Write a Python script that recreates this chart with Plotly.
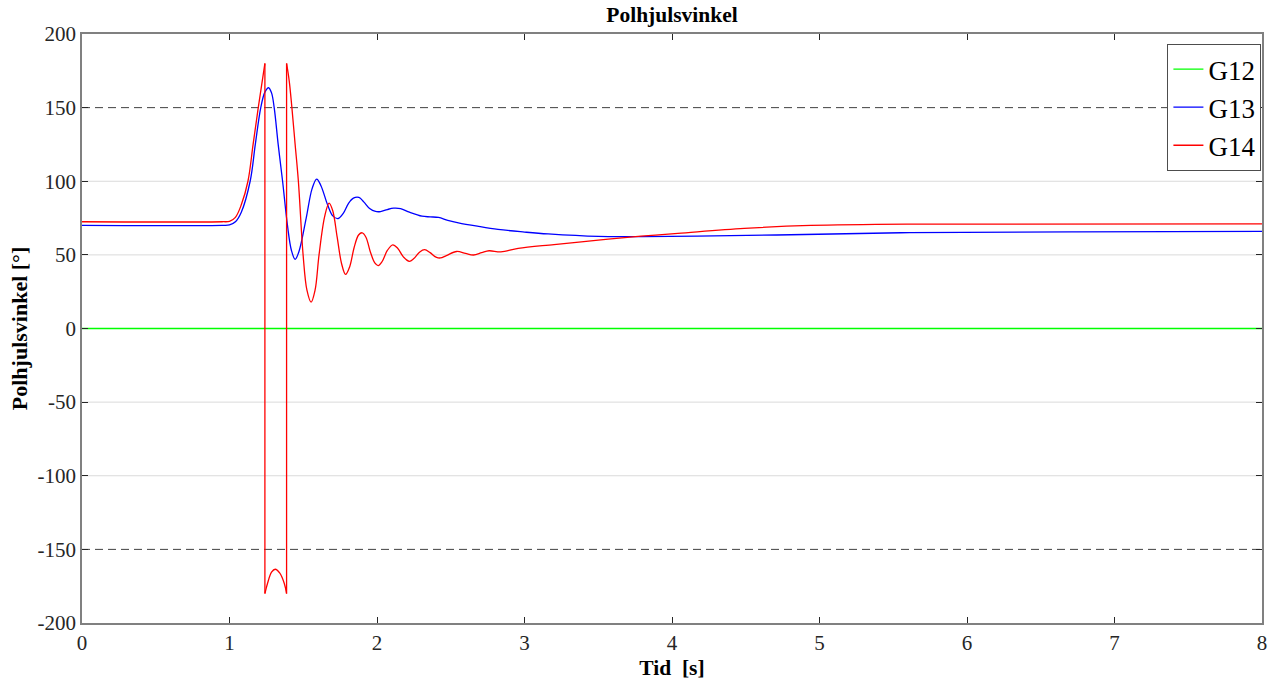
import plotly.graph_objects as go

# ---------------- data ----------------
g12_t = [0.0, 8.0]
g12_v = [0.0, 0.0]

g13_t = [0.0, 0.95, 1.0, 1.04, 1.08, 1.14, 1.175, 1.212, 1.24, 1.265, 1.285,
         1.303, 1.33, 1.36, 1.393, 1.42, 1.445, 1.47, 1.52, 1.56, 1.591, 1.62, 1.665,
         1.70, 1.737, 1.77, 1.807, 1.84, 1.877, 1.91, 1.95, 1.99, 2.024, 2.07, 2.113,
         2.16, 2.22, 2.305, 2.36, 2.417, 2.48, 2.552, 2.68, 2.82, 3.0, 3.16, 3.5, 3.8,
         4.17, 4.71, 5.61, 6.74, 8.0]
g13_v = [70.0, 70.0, 70.3, 72.5, 79.0, 100.0, 125.0, 150.0, 160.5, 163.5, 160.0,
         150.0, 125.0, 100.0, 70.0, 53.0, 47.0, 52.0, 75.0, 95.0, 101.5, 97.0, 84.0,
         76.5, 74.7, 78.0, 85.0, 88.5, 89.0, 86.0, 81.5, 79.5, 79.4, 80.8, 81.7,
         81.4, 79.0, 76.3, 75.8, 75.4, 73.5, 71.8, 69.5, 67.3, 65.5, 64.2, 62.5, 62.4,
         62.8, 63.5, 65.1, 65.6, 66.0]

# G14 is wrapped to +/-180 deg: three pieces joined by vertical jumps
g14_rise_t = [0.0, 0.95, 1.0, 1.04, 1.08, 1.125, 1.16, 1.195, 1.24]
g14_rise_v = [72.5, 72.5, 72.8, 75.5, 84.0, 100.0, 125.0, 150.0, 180.0]

g14_wrap_t = [1.24, 1.258, 1.285, 1.31, 1.34, 1.371, 1.387]
g14_wrap_v = [-180.0, -173.0, -165.5, -163.5, -166.0, -173.0, -180.0]

g14_tail_t = [1.387, 1.405, 1.423, 1.445, 1.467, 1.499, 1.525, 1.553, 1.58, 1.607,
              1.645, 1.675, 1.70, 1.73, 1.76, 1.787, 1.815, 1.845, 1.875, 1.90,
              1.925, 1.955, 1.985, 2.008, 2.035, 2.07, 2.107, 2.14, 2.18, 2.219,
              2.25, 2.29, 2.323, 2.36, 2.40, 2.43, 2.47, 2.54, 2.60, 2.654, 2.71,
              2.76, 2.84, 2.957, 3.2, 3.5, 3.79, 4.04, 4.49, 4.94, 5.61, 8.0]
g14_tail_v = [180.0, 168.0, 150.0, 125.0, 100.0, 50.0, 26.0, 17.9, 26.0, 50.0,
              76.0, 85.2, 80.0, 62.0, 44.0, 36.7, 42.0, 55.0, 63.5, 65.0,
              62.0, 52.0, 44.5, 42.7, 45.5, 53.0, 56.8, 54.5, 48.5, 45.6,
              47.5, 52.0, 53.5, 51.5, 48.5, 47.9, 49.5, 52.3, 51.0, 49.9, 51.5,
              52.8, 52.0, 54.4, 57.0, 60.0, 62.7, 64.6, 68.0, 70.0, 70.9, 71.0]

x_ticks = [0, 1, 2, 3, 4, 5, 6, 7, 8]
y_ticks = [-200, -150, -100, -50, 0, 50, 100, 150, 200]
solid_grid_y = [-100, -50, 0, 50, 100]
dashed_grid_y = [-150, 150]

# ---------------- figure ----------------
FONT = "Times New Roman, Liberation Serif, Times, serif"
fig = go.Figure()

fig.add_trace(go.Scatter(x=g12_t, y=g12_v, mode="lines", name="G12",
                         line=dict(color="#00ff00", width=1.3)))
fig.add_trace(go.Scatter(x=g13_t, y=g13_v, mode="lines", name="G13",
                         line=dict(color="#0000ff", width=1.3, shape="spline", smoothing=1.0)))

g14_x = g14_rise_t + [None] + g14_wrap_t + [None] + g14_tail_t
g14_y = g14_rise_v + [None] + g14_wrap_v + [None] + g14_tail_v
fig.add_trace(go.Scatter(x=g14_x, y=g14_y, mode="lines", name="G14", legendgroup="g14",
                         connectgaps=False,
                         line=dict(color="#ff0000", width=1.3, shape="spline", smoothing=1.0)))
# vertical wrap jumps
jump_x = [g14_rise_t[-1], g14_wrap_t[0], None, g14_wrap_t[-1], g14_tail_t[0]]
jump_y = [g14_rise_v[-1], g14_wrap_v[0], None, g14_wrap_v[-1], g14_tail_v[0]]
fig.add_trace(go.Scatter(x=jump_x, y=jump_y, mode="lines", name="G14", legendgroup="g14",
                         showlegend=False, connectgaps=False,
                         line=dict(color="#ff0000", width=1.3)))

for yv in solid_grid_y:
    fig.add_shape(type="line", xref="paper", x0=0, x1=1, yref="y", y0=yv, y1=yv,
                  line=dict(color="#dadada", width=1), layer="below")
for yv in dashed_grid_y:
    fig.add_shape(type="line", xref="paper", x0=0, x1=1, yref="y", y0=yv, y1=yv,
                  line=dict(color="#404040", width=1, dash="8px,5px"), layer="below")

fig.update_layout(
    width=1278, height=687,
    margin=dict(l=82, r=11, t=34, b=57),
    paper_bgcolor="white", plot_bgcolor="white",
    font=dict(family=FONT, color="#262626", size=21),
    title=dict(text="<b>Polhjulsvinkel</b>", x=0.5, xref="paper", xanchor="center",
               y=0.99, yref="container", yanchor="top",
               font=dict(family=FONT, size=21.5, color="black")),
    showlegend=True,
    legend=dict(x=0.9995, y=0.983, xanchor="right", yanchor="top",
                bgcolor="white", bordercolor="#4d4d4d", borderwidth=1,
                font=dict(family=FONT, size=27, color="black"),
                itemwidth=30, tracegroupgap=0),
)

fig.update_xaxes(
    range=[0, 8], tickvals=x_ticks, ticktext=[str(v) for v in x_ticks],
    tickfont=dict(family=FONT, size=21, color="#262626"),
    showgrid=False, zeroline=False,
    showline=True, linecolor="#808080", linewidth=1.5, mirror="ticks",
    ticks="inside", ticklen=6, tickcolor="#262626", tickwidth=1,
    title=dict(text="<b>Tid\u00a0\u00a0[s]</b>", font=dict(family=FONT, size=21.5, color="black"),
               standoff=6),
)
fig.update_yaxes(
    range=[-200, 200], tickvals=y_ticks, ticktext=[str(v) for v in y_ticks],
    tickfont=dict(family=FONT, size=21, color="#262626"),
    showgrid=False, zeroline=False,
    showline=True, linecolor="#808080", linewidth=1.5, mirror="ticks",
    ticks="inside", ticklen=6, tickcolor="#262626", tickwidth=1,
    title=dict(text="<b>Polhjulsvinkel [°]</b>", font=dict(family=FONT, size=22, color="black"),
               standoff=4),
)

fig.write_html("out.html")
